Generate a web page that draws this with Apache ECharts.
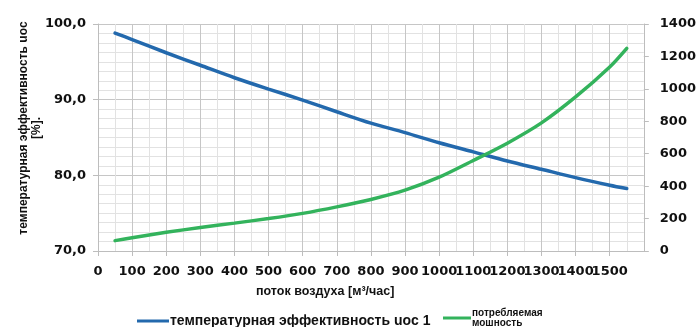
<!DOCTYPE html>
<html>
<head>
<meta charset="utf-8">
<script src="https://cdn.jsdelivr.net/npm/echarts@6/dist/echarts.min.js"></script>
<style>html,body{margin:0;padding:0;background:#fff;}#c{width:699px;height:327px;}</style>
</head>
<body>
<div id="c"></div>
<script>
// Data
const airflow = [50, 100, 200, 300, 400, 500, 600, 700, 800, 900, 1000, 1100, 1200, 1300, 1400, 1500, 1550];
const efficiency = [98.8, 97.95, 96.2, 94.55, 92.9, 91.4, 89.95, 88.4, 86.9, 85.65, 84.3, 83.1, 81.9, 80.8, 79.7, 78.7, 78.25];
const power = [64, 82, 115, 145, 172, 200, 232, 272, 318, 375, 455, 558, 665, 790, 950, 1135, 1250];
const seriesNames = ['температурная эффективность uoc 1', 'потребляемая\nмошность'];
const xAxisTitle = 'поток воздуха [м³/час]';
const yAxisTitle = 'температурная эффективность uoc\n[%].';

const chart = echarts.init(document.getElementById('c'), null, {renderer: 'canvas'});
const tickFont = {fontFamily: 'DejaVu Sans', fontWeight: 'bold', fontSize: 13, color: '#111'};
const major = {lineStyle: {color: '#c6c6c6', width: 1}};
const minor = {lineStyle: {color: '#e2e2e2', width: 1}};
chart.setOption({
  animation: false,
  backgroundColor: '#fff',
  grid: {left: 98, right: 41, top: 24, bottom: 76, containLabel: false},
  legend: [
    {left: 132, top: 309, itemWidth: 32, itemHeight: 3, icon: 'rect', itemGap: 0,
     data: [{name: seriesNames[0], textStyle: {fontFamily: 'Liberation Sans', fontWeight: 'bold', fontSize: 14, color: '#111', padding: [0, 0, 0, -4]}}]},
    {left: 438, top: 303, itemWidth: 28, itemHeight: 3, icon: 'rect',
     data: [{name: seriesNames[1], textStyle: {fontFamily: 'Liberation Sans', fontWeight: 'bold', fontSize: 10, lineHeight: 10, color: '#111', padding: [0, 0, 0, -4]}}]}
  ],
  graphic: [
    {type: 'text', left: 256, top: 285, style: {text: xAxisTitle, font: 'bold 12.5px "Liberation Sans"', fill: '#111'}},
    {type: 'text', x: 30, y: 128, rotation: Math.PI / 2,
     style: {text: yAxisTitle, font: 'bold 12px "Liberation Sans"', lineHeight: 13, fill: '#111', align: 'center', verticalAlign: 'middle'}}
  ],
  xAxis: {
    type: 'value', min: 0, max: 1600, interval: 100,
    axisLine: {show: true, lineStyle: {color: '#bdbdbd'}},
    axisTick: {show: true, length: 5, lineStyle: {color: '#bdbdbd'}},
    axisLabel: Object.assign({margin: 14, formatter: v => String(v)}, tickFont),
    splitLine: Object.assign({show: true}, major),
    minorTick: {show: false, splitNumber: 2},
    minorSplitLine: Object.assign({show: true}, minor)
  },
  yAxis: [
    {
      type: 'value', min: 70, max: 100, interval: 10, position: 'left',
      axisLine: {show: true, lineStyle: {color: '#bdbdbd'}},
      axisTick: {show: true, length: 5, lineStyle: {color: '#bdbdbd'}},
      axisLabel: Object.assign({margin: 12, formatter: v => v.toFixed(1).replace('.', ',')}, tickFont),
      splitLine: Object.assign({show: true}, major),
      minorTick: {show: false, splitNumber: 8},
      minorSplitLine: Object.assign({show: true}, minor)
    },
    {
      type: 'value', min: 0, max: 1400, interval: 200, position: 'right',
      axisLine: {show: true, lineStyle: {color: '#bdbdbd'}},
      axisTick: {show: true, length: 5, lineStyle: {color: '#bdbdbd'}},
      axisLabel: Object.assign({margin: 16, formatter: v => String(v)}, tickFont),
      splitLine: {show: false}
    }
  ],
  series: [
    {name: seriesNames[0], type: 'line', yAxisIndex: 0, smooth: 0.3, showSymbol: false,
     color: '#2369ad', lineStyle: {width: 3.5, color: '#2369ad', cap: 'round'},
     data: airflow.map((x, i) => [x, efficiency[i]])},
    {name: seriesNames[1], type: 'line', yAxisIndex: 1, smooth: 0.3, showSymbol: false,
     color: '#33b35c', lineStyle: {width: 3.5, color: '#33b35c', cap: 'round'},
     data: airflow.map((x, i) => [x, power[i]])}
  ]
});
</script>
</body>
</html>
